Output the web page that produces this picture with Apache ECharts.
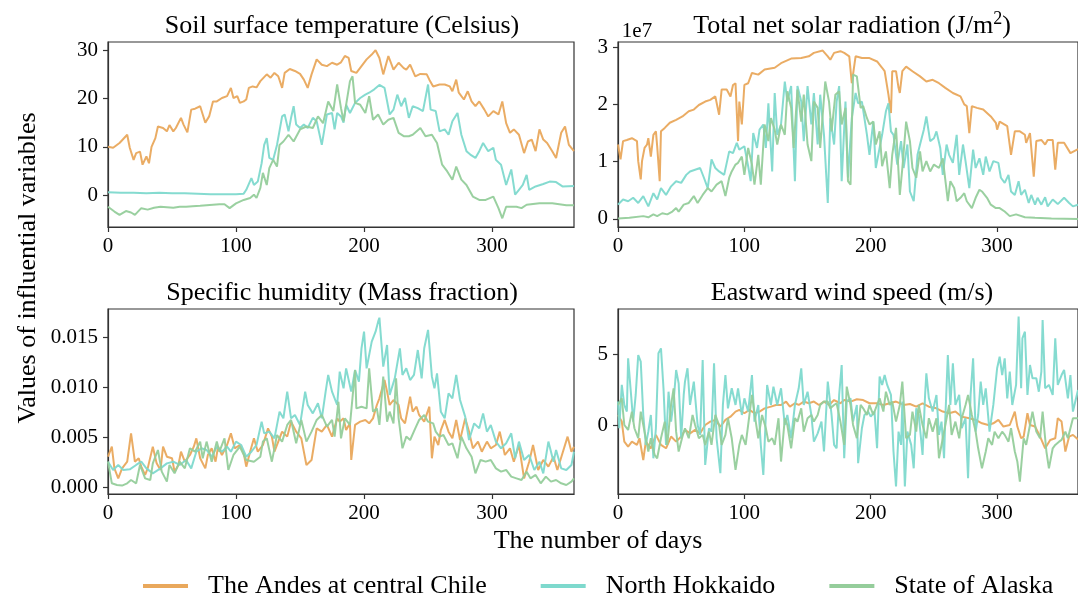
<!DOCTYPE html>
<html><head><meta charset="utf-8">
<script src="https://cdn.jsdelivr.net/npm/echarts@6/dist/echarts.min.js"></script>
<style>html,body{margin:0;padding:0;background:#fff}#c{width:1078px;height:601px}</style>
</head><body><div id="c"></div>
<script>
// ---------- data ----------
const seriesNames = ['The Andes at central Chile', 'North Hokkaido', 'State of Alaska'];
const xTicks = [0, 100, 200, 300];
const tempTicks = [0, 10, 20, 30];
const solarTicks = [0, 1, 2, 3];          // x 1e7
const humTicks = [0, 5, 10, 15];          // x 1e-3
const windTicks = [0, 5];

// Soil surface temperature (Celsius)
const tempChile = [[0,10],[4,9.8],[9,10.8],[15,12.5],[17,9.8],[20,7.3],[22,8.7],[25,9],[27,6.3],[30,8],[32,6.6],[34,10],[37,11.8],[39,14.2],[43,13.9],[46,13.2],[48,14.5],[51,13.2],[53,13.9],[57,16],[59,14.6],[62,13],[65,17.7],[68,17.9],[72,18.4],[74,16.7],[76,15],[79,16.3],[82,19.4],[85,19.4],[89,20.1],[93,20.5],[96,22.2],[98,20.1],[101,20.5],[103,19.1],[106,19.4],[108,19.8],[110,22.2],[113,22.5],[116,22.3],[119,23.6],[124,25],[127,24.3],[130,25.3],[133,24.6],[136,22.2],[138,25.3],[142,26.1],[146,25.7],[150,25.1],[153,23.9],[156,22.2],[159,25],[163,28.1],[167,27],[171,26.7],[175,27.4],[179,27],[182,27.5],[185,28.8],[188,28.4],[190,25.7],[194,25.3],[198,26.7],[202,28.1],[206,29.1],[209,30],[212,28.4],[215,25],[219,28.8],[223,26],[227,27.4],[231,26.3],[233,26],[236,27],[240,24.6],[244,25.1],[249,25],[251,23.9],[254,22.5],[259,22.9],[263,22.9],[267,22.5],[269,21.5],[272,23.9],[274,21.2],[278,19.8],[281,21.5],[284,19.4],[287,18.4],[290,19.4],[294,17.7],[297,16.3],[301,17.4],[305,16.7],[308,19.4],[311,14.9],[314,12.9],[317,13.6],[321,12.5],[325,8.7],[328,11.1],[331,11.5],[334,9.1],[337,13.6],[340,11.5],[343,10.8],[347,9.1],[350,7.7],[354,12.9],[357,14.2],[360,10.4],[364,9.1]];
const tempHokkaido = [[0,0.6],[10,0.5],[20,0.5],[30,0.4],[40,0.5],[50,0.4],[60,0.4],[70,0.3],[80,0.2],[90,0.2],[100,0.2],[106,0.3],[108,1.1],[112,3.5],[114,2.1],[117,2.8],[120,6.6],[122,10.4],[124,11.8],[126,7.7],[129,7.3],[132,10.4],[136,16.3],[138,16.7],[141,13.2],[143,16],[145,18.4],[147,14.6],[150,13.9],[153,14.6],[156,13.9],[160,16],[163,15.3],[167,10.4],[171,16.7],[175,17],[177,13.6],[179,17],[182,16.3],[184,15],[186,18.7],[189,17],[193,19.1],[197,20.1],[201,20.8],[204,21.2],[208,21.9],[212,22.8],[216,22.2],[220,16.7],[223,17.7],[226,20.8],[229,18.4],[232,20.1],[235,16],[238,18.4],[242,18],[246,17.4],[250,22.9],[252,17.7],[256,17.4],[259,13.2],[263,13.6],[266,12.5],[269,15.3],[273,17],[276,12.5],[280,9.1],[283,8.4],[287,7.7],[290,9.1],[293,10.8],[297,9.1],[301,9.8],[303,7.3],[307,6.3],[311,2.1],[315,5.3],[318,0.1],[321,1.1],[324,2.1],[327,4.2],[329,1.1],[334,1.8],[340,2.3],[345,2.8],[350,2.7],[355,1.8],[364,1.9]];
const tempAlaska = [[0,-2.4],[5,-3.4],[9,-4.1],[14,-3.3],[18,-3.6],[21,-4.1],[26,-2.7],[31,-3],[36,-2.6],[41,-2.4],[46,-2.5],[51,-2.6],[56,-2.4],[61,-2.4],[66,-2.3],[72,-2.2],[77,-2.1],[82,-2],[87,-1.9],[91,-1.9],[95,-2.7],[100,-1.7],[106,-1],[111,-0.6],[114,0.1],[116,-0.6],[119,1.5],[121,4.6],[124,2.1],[126,5.6],[129,7.3],[132,5.9],[134,10.4],[137,11.1],[141,12.5],[145,11.1],[150,13.6],[155,14.2],[160,13.9],[164,16.3],[168,14.9],[172,19.4],[176,17.4],[179,22.9],[182,18],[184,15.3],[186,18.7],[189,23.6],[191,24.6],[193,19.1],[197,18.7],[201,17],[204,20.5],[207,15.6],[211,16.7],[215,14.6],[219,15.6],[223,16],[227,12.9],[231,12.2],[235,12.2],[238,12.5],[244,13.9],[248,12.2],[253,12.5],[257,10.8],[261,6.3],[265,4.9],[269,3.2],[272,5.9],[276,3.2],[280,2.1],[285,-0.3],[290,-1],[295,-1],[301,-0.3],[305,-2.7],[308,-4.8],[311,-2.4],[319,-2.4],[323,-2.7],[327,-2],[337,-1.7],[347,-1.7],[358,-2.1],[364,-2.1]];

// Total net solar radiation (units of 1e7 J/m2)
const solarChile = [[0,1.30],[2,1.04],[4,1.36],[7,1.38],[11,1.41],[15,1.36],[16,1.01],[18,0.69],[19,1.01],[21,1.24],[23,1.30],[24,1.41],[26,1.09],[28,1.47],[30,1.53],[31,1.27],[33,0.66],[34,1.53],[37,1.59],[41,1.68],[46,1.73],[51,1.79],[56,1.88],[60,1.91],[64,1.99],[69,2.05],[73,2.08],[77,2.14],[80,1.82],[82,2.26],[86,2.26],[89,2.14],[91,2.34],[93,2.37],[95,1.36],[96,2.05],[98,1.65],[100,2.34],[103,2.37],[106,2.55],[111,2.52],[116,2.61],[124,2.64],[129,2.72],[137,2.80],[145,2.81],[151,2.84],[155,2.90],[162,2.94],[166,2.84],[168,2.78],[171,2.90],[176,2.93],[179,2.90],[183,2.84],[185,2.37],[188,2.84],[193,2.81],[199,2.81],[205,2.75],[209,2.64],[211,2.58],[214,2.17],[216,1.85],[217,2.58],[220,2.58],[222,2.29],[223,2.20],[225,2.58],[228,2.66],[233,2.58],[239,2.49],[244,2.40],[249,2.43],[254,2.37],[259,2.29],[265,2.20],[271,2.14],[274,2.00],[276,1.97],[278,1.50],[280,1.97],[284,1.94],[289,1.91],[295,1.79],[299,1.68],[300,1.56],[302,1.70],[308,1.62],[311,1.12],[314,1.53],[318,1.53],[322,1.47],[323,1.33],[326,1.50],[329,0.74],[331,1.36],[335,1.38],[338,1.30],[340,1.38],[344,1.38],[346,0.86],[348,1.33],[353,1.33],[358,1.15],[364,1.22]];
const solarHokkaido = [[0,0.25],[4,0.34],[8,0.31],[12,0.37],[16,0.28],[20,0.40],[24,0.22],[28,0.45],[31,0.34],[34,0.54],[38,0.42],[42,0.57],[46,0.66],[50,0.63],[54,0.77],[57,0.83],[61,0.86],[65,0.89],[68,0.72],[71,0.54],[74,1.04],[77,0.89],[80,0.83],[84,0.77],[88,1.18],[91,1.15],[94,1.33],[96,1.21],[100,1.27],[103,0.92],[105,0.66],[107,1.50],[110,1.24],[112,1.56],[115,1.65],[117,1.24],[119,2.02],[122,0.83],[124,2.20],[126,1.47],[129,1.65],[132,2.40],[134,2.05],[137,2.32],[140,0.66],[142,2.32],[145,2.05],[147,1.36],[150,2.32],[153,1.65],[155,2.20],[158,1.30],[160,2.17],[163,1.47],[166,0.28],[168,1.76],[171,1.30],[173,2.05],[175,2.32],[177,0.66],[180,2.05],[182,0.72],[185,1.76],[188,2.20],[190,2.02],[193,2.05],[197,1.47],[199,1.12],[202,1.70],[204,0.89],[207,1.24],[209,1.47],[212,1.88],[214,2.02],[216,1.53],[218,1.47],[221,0.95],[224,1.36],[226,0.89],[229,1.30],[231,0.48],[234,0.31],[237,1.12],[239,1.30],[242,1.56],[244,1.79],[247,1.36],[250,1.41],[252,1.53],[255,1.24],[257,0.77],[260,1.30],[262,1.12],[265,0.98],[268,1.47],[270,0.77],[273,1.30],[275,1.01],[278,0.54],[281,1.21],[283,0.89],[286,1.06],[289,0.77],[291,1.09],[294,0.83],[297,1.01],[301,0.98],[303,0.72],[306,0.63],[309,0.77],[311,0.48],[314,0.42],[317,0.66],[319,0.42],[322,0.51],[325,0.28],[327,0.42],[330,0.25],[332,0.37],[335,0.25],[338,0.38],[340,0.22],[344,0.34],[348,0.26],[353,0.37],[357,0.28],[360,0.22],[364,0.25]];
const solarAlaska = [[0,0.01],[9,0.02],[20,0.05],[24,0.03],[28,0.08],[31,0.05],[35,0.10],[39,0.08],[43,0.13],[46,0.19],[48,0.13],[52,0.25],[56,0.28],[60,0.40],[63,0.28],[67,0.42],[71,0.54],[74,0.48],[78,0.60],[82,0.66],[85,0.40],[88,0.72],[90,0.83],[93,0.95],[95,0.98],[98,1.09],[100,0.77],[103,1.24],[106,0.95],[108,0.60],[111,1.12],[113,0.60],[116,1.65],[119,1.36],[121,1.76],[124,1.56],[126,1.30],[129,1.65],[132,1.47],[134,2.23],[137,1.94],[139,1.24],[142,2.26],[145,1.70],[147,2.17],[150,1.30],[153,1.01],[155,2.05],[158,1.94],[160,1.24],[164,2.40],[167,2.05],[169,1.53],[172,2.17],[175,2.23],[177,1.65],[180,1.94],[182,0.66],[184,0.60],[186,2.52],[189,2.49],[192,1.94],[194,1.97],[197,1.76],[199,1.65],[202,1.70],[204,1.30],[207,1.53],[209,0.92],[212,1.18],[215,0.54],[217,1.12],[220,1.59],[223,0.42],[225,0.89],[228,1.70],[231,1.36],[233,0.89],[236,0.72],[239,1.18],[241,0.83],[244,1.01],[247,0.83],[250,0.95],[254,0.89],[257,1.06],[261,0.31],[263,0.66],[266,0.54],[268,0.31],[271,0.37],[274,0.45],[276,0.31],[280,0.19],[283,0.37],[286,0.51],[288,0.48],[292,0.37],[295,0.25],[299,0.19],[302,0.19],[306,0.13],[310,0.05],[315,0.08],[322,0.03],[330,0.02],[343,0.01],[364,0.00]];

// Specific humidity (units of 1e-3 mass fraction)
const humChile = [[0,3.07],[3,4.07],[5,1.90],[8,0.90],[11,1.90],[15,2.57],[18,5.41],[21,2.57],[24,2.91],[26,2.07],[29,1.24],[31,1.90],[35,4.07],[38,2.40],[41,1.74],[43,4.07],[46,3.07],[50,2.91],[52,1.57],[55,2.24],[57,3.57],[60,2.57],[64,3.24],[67,4.07],[69,4.91],[72,2.91],[76,1.90],[78,3.24],[81,3.91],[84,2.57],[86,4.07],[89,3.24],[93,4.24],[96,5.41],[99,3.91],[103,4.24],[106,3.41],[108,2.07],[111,3.57],[114,4.91],[117,3.57],[121,4.24],[125,5.91],[128,5.08],[130,3.57],[133,4.58],[136,5.58],[140,5.08],[143,6.58],[147,5.58],[151,4.91],[155,2.24],[159,2.74],[163,5.91],[167,5.58],[171,6.25],[175,5.08],[179,6.91],[181,6.58],[184,6.91],[186,5.74],[189,6.41],[190,2.74],[193,6.25],[197,6.58],[201,6.75],[204,6.41],[207,6.91],[210,8.25],[212,8.92],[216,10.75],[218,9.59],[220,8.25],[223,8.75],[227,8.25],[229,6.91],[232,6.41],[236,9.08],[238,7.58],[241,8.08],[243,7.25],[247,6.58],[251,8.08],[253,2.91],[255,5.08],[258,4.24],[260,5.74],[263,6.75],[266,5.58],[269,4.91],[272,6.75],[275,4.74],[279,6.91],[282,5.58],[285,3.91],[289,4.58],[292,3.57],[296,4.58],[299,3.91],[303,4.24],[306,5.58],[310,3.24],[314,3.91],[317,2.57],[321,4.24],[325,0.90],[329,2.57],[332,4.24],[336,1.74],[340,2.74],[344,2.07],[348,3.07],[351,1.74],[355,3.41],[359,5.08],[362,3.57],[364,4.07]];
const humHokkaido = [[0,2.57],[4,1.74],[8,2.24],[12,1.74],[17,1.80],[22,2.24],[26,2.57],[30,1.90],[35,1.40],[41,1.90],[46,2.40],[51,2.57],[56,2.24],[61,2.74],[65,1.90],[69,3.57],[73,3.91],[77,3.74],[81,3.07],[85,4.07],[89,3.57],[93,4.07],[96,3.57],[100,4.58],[104,4.24],[108,3.07],[112,3.57],[116,4.24],[120,6.58],[122,5.41],[126,5.58],[130,4.91],[134,7.58],[137,6.91],[140,9.59],[143,6.91],[146,7.25],[150,6.25],[154,9.59],[156,8.25],[160,7.41],[164,8.42],[167,6.91],[170,9.59],[172,11.26],[175,9.59],[179,8.25],[181,11.59],[184,9.92],[186,11.92],[190,9.59],[193,11.76],[196,10.59],[198,13.93],[200,15.6],[202,11.92],[206,14.6],[209,15.6],[211,16.6],[212,17.0],[215,12.09],[218,14.26],[220,9.25],[224,10.92],[228,13.93],[230,11.26],[233,11.92],[236,10.75],[239,11.26],[242,13.76],[245,10.92],[247,13.93],[250,15.77],[253,11.09],[255,9.92],[257,11.42],[260,7.58],[263,6.91],[266,9.42],[269,8.92],[272,11.26],[275,8.75],[279,7.08],[282,4.74],[286,6.41],[290,5.91],[293,7.41],[296,5.58],[299,6.25],[303,4.58],[307,3.91],[311,4.41],[315,5.41],[318,2.91],[321,4.58],[325,2.74],[329,3.24],[333,1.74],[337,2.57],[340,1.40],[344,4.58],[348,2.57],[350,3.74],[354,1.90],[358,1.74],[362,2.24],[364,3.57]];
const humAlaska = [[0,2.57],[3,0.40],[7,0.23],[11,0.17],[15,0.40],[18,0.73],[22,0.40],[25,2.24],[29,0.90],[33,0.73],[35,2.40],[39,3.74],[42,1.57],[46,0.57],[48,2.24],[52,1.40],[56,2.57],[60,1.90],[64,3.91],[68,3.57],[72,4.58],[74,2.91],[77,4.58],[81,2.57],[85,4.58],[87,3.57],[91,4.91],[94,1.74],[98,3.24],[103,4.07],[108,2.74],[114,2.57],[119,3.07],[121,4.58],[124,4.91],[128,2.57],[132,5.24],[136,4.58],[140,6.25],[143,6.75],[147,4.41],[151,6.75],[155,4.58],[159,5.58],[163,6.75],[167,7.25],[171,6.08],[175,6.75],[177,5.08],[180,8.58],[182,4.91],[185,6.91],[189,6.25],[193,11.76],[194,7.91],[198,8.08],[202,7.91],[204,11.92],[207,7.58],[210,7.91],[212,6.25],[215,11.09],[218,6.58],[220,7.58],[223,6.41],[225,10.92],[227,6.91],[230,3.91],[233,5.08],[236,4.74],[240,5.91],[243,6.75],[247,7.25],[250,6.58],[254,6.41],[256,5.58],[259,5.08],[262,5.24],[266,4.24],[269,4.41],[273,2.91],[276,5.08],[280,3.91],[284,3.07],[287,1.40],[291,2.74],[295,2.57],[299,2.74],[303,1.90],[307,1.57],[311,1.74],[315,1.07],[319,0.90],[323,0.73],[327,1.57],[330,0.90],[334,1.24],[338,0.40],[342,1.07],[346,0.57],[350,0.73],[354,0.40],[358,0.23],[362,0.57],[364,0.90]];

// Eastward wind speed (m/s)
const windChile = [[0,0.73],[3,0.26],[5,-1.16],[8,-1.51],[11,-1.16],[15,-1.39],[17,-0.92],[20,-2.46],[22,-1.16],[26,-1.63],[30,-0.68],[34,-1.39],[38,-1.63],[42,-0.80],[46,-1.16],[50,-0.80],[53,-0.33],[57,-0.57],[61,-0.33],[65,-0.57],[69,0.02],[73,0.26],[77,0.38],[81,-0.09],[85,0.38],[89,0.61],[93,0.97],[96,1.09],[100,0.85],[104,1.09],[108,0.85],[112,0.97],[116,1.20],[121,1.32],[125,1.44],[129,1.44],[133,1.68],[136,1.32],[140,1.56],[143,1.44],[147,1.68],[151,1.56],[155,1.68],[159,1.44],[163,1.68],[167,1.44],[171,1.79],[176,1.56],[179,1.79],[184,1.68],[189,1.84],[194,1.79],[199,1.56],[205,1.56],[210,1.44],[215,1.56],[220,1.68],[226,1.44],[231,1.51],[236,1.32],[241,1.56],[246,1.32],[252,1.20],[257,0.97],[262,0.85],[267,0.97],[272,0.61],[278,0.50],[283,0.38],[288,0.14],[293,0.02],[297,0.14],[301,0.38],[305,-0.09],[310,0.02],[314,0.97],[316,-0.09],[319,-0.92],[321,-0.80],[324,0.85],[326,0.02],[330,-0.09],[334,-0.80],[338,-1.63],[342,-1.04],[346,-0.92],[348,0.50],[351,0.26],[354,-1.86],[357,-0.80],[360,-0.68],[364,-1.0]];
const windHokkaido = [[0,1.68],[1,-0.21],[3,2.86],[5,1.44],[7,0.97],[8,4.74],[11,1.44],[12,0.26],[14,2.15],[16,4.98],[18,4.51],[20,0.73],[22,-1.39],[24,-0.45],[26,0.73],[28,-2.34],[30,-0.21],[32,5.10],[34,5.45],[36,2.62],[38,-1.39],[40,2.38],[42,0.26],[44,1.68],[46,3.92],[48,2.97],[50,-0.92],[52,2.15],[53,3.09],[55,4.04],[57,1.44],[60,3.09],[63,0.02],[65,-0.68],[67,4.63],[69,-2.81],[72,-0.21],[74,-0.45],[76,4.39],[78,-0.92],[81,-3.40],[83,1.44],[85,3.56],[87,1.20],[90,2.62],[93,1.44],[95,2.62],[98,0.73],[100,1.91],[103,0.97],[106,3.56],[108,0.26],[111,1.44],[113,-1.39],[115,-3.52],[118,2.86],[121,1.44],[123,2.74],[126,1.44],[129,2.62],[132,0.02],[134,0.73],[137,-0.92],[140,1.44],[143,2.62],[145,4.04],[147,1.44],[150,2.38],[153,0.73],[155,-1.16],[158,-0.57],[161,0.26],[163,-1.86],[166,3.09],[169,0.73],[171,-1.39],[173,-1.63],[175,2.15],[177,4.27],[179,-2.34],[181,1.68],[184,1.91],[186,0.26],[189,1.44],[190,-2.69],[193,-0.21],[195,0.73],[198,0.97],[200,0.61],[203,0.97],[205,-1.63],[207,3.45],[209,2.86],[211,3.56],[213,2.86],[216,2.15],[218,-1.86],[220,-4.34],[222,-0.45],[224,-1.39],[225,1.68],[227,-4.34],[229,-0.45],[232,-1.39],[234,-3.05],[236,1.20],[238,0.73],[241,-2.10],[243,2.15],[244,3.68],[246,1.91],[249,0.97],[252,2.15],[254,-0.68],[256,0.26],[258,-2.34],[259,0.50],[261,4.98],[263,1.44],[265,4.39],[267,1.44],[270,2.15],[272,-0.21],[275,0.50],[277,-3.75],[279,2.15],[281,4.74],[283,-0.45],[285,0.73],[287,3.09],[289,1.44],[291,2.62],[294,-0.45],[297,1.44],[300,4.04],[302,4.86],[304,3.56],[306,4.74],[308,1.91],[310,3.80],[312,1.44],[315,2.86],[317,7.70],[319,2.62],[320,6.16],[322,6.63],[324,2.15],[326,4.27],[328,3.33],[331,3.33],[333,2.38],[335,3.80],[336,7.46],[338,2.62],[341,2.86],[344,2.15],[346,6.16],[348,2.86],[351,3.56],[353,3.92],[356,1.91],[358,3.56],[360,0.97],[364,2.5]];
const windAlaska = [[0,1.44],[3,1.91],[5,0.02],[8,-0.33],[11,0.97],[13,-0.21],[16,-0.92],[18,0.97],[21,-0.45],[24,-1.86],[26,-0.92],[29,-2.10],[31,-2.34],[34,-0.92],[37,0.26],[39,-1.39],[42,1.44],[44,2.62],[46,-0.45],[48,-1.86],[51,-0.80],[53,-0.21],[56,-0.92],[59,0.73],[61,0.02],[64,-0.92],[67,-0.68],[69,-1.39],[72,-0.45],[74,-1.39],[77,0.73],[80,0.02],[82,-1.39],[85,-0.68],[87,0.50],[90,-0.92],[93,-3.16],[96,-1.39],[98,-0.68],[101,-1.39],[104,0.73],[106,2.15],[109,0.26],[111,-0.92],[114,0.73],[117,-0.21],[119,-1.16],[122,-0.92],[124,-1.39],[127,0.50],[129,-2.57],[132,0.50],[134,0.02],[137,-1.63],[140,0.50],[142,0.26],[145,1.20],[147,-0.45],[150,0.50],[153,0.73],[155,0.26],[158,0.73],[160,1.44],[163,1.68],[166,1.68],[168,1.20],[171,1.44],[173,1.56],[176,0.26],[179,-1.39],[181,2.74],[184,1.44],[186,0.02],[189,-0.92],[192,1.44],[194,1.20],[197,0.73],[199,1.44],[202,0.73],[205,1.44],[207,1.91],[210,0.97],[212,2.38],[215,1.44],[217,1.68],[220,0.26],[223,1.44],[225,3.09],[228,-0.92],[231,-0.68],[233,0.97],[236,-0.45],[238,1.44],[241,0.02],[244,-0.92],[246,0.50],[249,-0.45],[252,0.50],[254,-2.34],[257,-0.92],[259,0.02],[262,1.44],[264,-0.68],[267,0.26],[270,-0.92],[272,0.50],[275,1.44],[277,2.15],[280,0.73],[283,-0.45],[285,-1.63],[288,-3.05],[291,-1.86],[293,-0.92],[296,-1.39],[298,-0.45],[301,-0.92],[304,-0.45],[306,-0.68],[309,-1.16],[311,-0.21],[314,-1.86],[316,-2.57],[318,-3.99],[321,-0.92],[323,-1.39],[326,0.02],[328,0.97],[331,-0.45],[334,-0.92],[336,0.97],[339,-1.86],[341,-3.05],[344,-1.63],[346,-1.39],[349,-1.16],[351,-1.04],[354,-0.45],[356,-0.92],[360,0.50],[364,0.5]];

// ---------- chart ----------
const FONT = '"Liberation Serif", "Times New Roman", serif';
const COLORS = ['#e9a85c', '#7ed9cd', '#95cd9b'];
const AX = '#333';

const grids = [
  {left: 108, top: 42, width: 466, height: 185},
  {left: 618, top: 42, width: 466, height: 185},
  {left: 108, top: 309, width: 466, height: 185},
  {left: 618, top: 309, width: 466, height: 185}
].map(g => Object.assign(g, {show: true, borderColor: AX, borderWidth: 1.2, backgroundColor: 'transparent', containLabel: false}));

function xAx(gi) {
  return {
    type: 'value', gridIndex: gi, min: 0, max: 364,
    axisLine: {show: true, onZero: false, lineStyle: {color: AX, width: 1.2}},
    axisTick: {show: true, inside: false, length: 5, lineStyle: {color: AX, width: 1.2}, customValues: xTicks},
    axisLabel: {customValues: xTicks, color: '#000', fontFamily: FONT, fontSize: 21, margin: 9},
    splitLine: {show: false}
  };
}
function yAx(gi, min, max, ticks, fmt) {
  return {
    type: 'value', gridIndex: gi, min: min, max: max,
    axisLine: {show: true, onZero: false, lineStyle: {color: AX, width: 1.2}},
    axisTick: {show: true, inside: false, length: 5, lineStyle: {color: AX, width: 1.2}, customValues: ticks},
    axisLabel: {customValues: ticks, color: '#000', fontFamily: FONT, fontSize: 21, margin: 10, formatter: fmt},
    splitLine: {show: false}
  };
}

const panels = [
  [tempChile, tempHokkaido, tempAlaska],
  [solarChile, solarHokkaido, solarAlaska],
  [humChile, humHokkaido, humAlaska],
  [windChile, windHokkaido, windAlaska]
];
const series = [];
panels.forEach((p, gi) => {
  p.forEach((d, si) => {
    series.push({
      type: 'line', name: seriesNames[si], xAxisIndex: gi, yAxisIndex: gi,
      data: d, showSymbol: false, symbol: 'none', color: COLORS[si],
      lineStyle: {width: 2, color: COLORS[si], opacity: 0.95},
      emphasis: {disabled: true}, animation: false, z: 2 + si
    });
  });
});

const option = {
  backgroundColor: '#fff',
  animation: false,
  grid: grids,
  xAxis: [xAx(0), xAx(1), xAx(2), xAx(3)],
  yAxis: [
    yAx(0, -6.6, 31.7, tempTicks, v => String(v)),
    yAx(1, -0.14, 3.09, solarTicks, v => String(v)),
    yAx(2, -0.67, 17.87, humTicks, v => (v / 1000).toFixed(3)),
    yAx(3, -4.87, 8.24, windTicks, v => String(v))
  ],
  legend: {
    data: seriesNames, left: 143, top: 573, padding: 0, icon: 'rect', itemWidth: 45, itemHeight: 4, itemGap: 54,
    textStyle: {fontFamily: FONT, fontSize: 26, color: '#000', padding: [0, 0, 0, 15]},
    selectedMode: false
  },
  series: series,
  graphic: [
    {type: 'text', x: 342, y: 26, style: {text: 'Soil surface temperature (Celsius)', font: '26px ' + FONT, fill: '#000', align: 'center', verticalAlign: 'middle'}},
    {type: 'text', x: 852, y: 26, style: {
      text: '{a|Total net solar radiation (J/m}{s|2}{a|)}', align: 'center', verticalAlign: 'middle', fill: '#000',
      rich: {a: {fontFamily: FONT, fontSize: 26, lineHeight: 32, fill: '#000'}, s: {fontFamily: FONT, fontSize: 18, lineHeight: 18, verticalAlign: 'top', fill: '#000'}}
    }},
    {type: 'text', x: 342, y: 293, style: {text: 'Specific humidity (Mass fraction)', font: '26px ' + FONT, fill: '#000', align: 'center', verticalAlign: 'middle'}},
    {type: 'text', x: 852, y: 293, style: {text: 'Eastward wind speed (m/s)', font: '26px ' + FONT, fill: '#000', align: 'center', verticalAlign: 'middle'}},
    {type: 'text', x: 637, y: 31, style: {text: '1e7', font: '21px ' + FONT, fill: '#000', align: 'center', verticalAlign: 'middle'}},
    {type: 'text', x: 598, y: 541, style: {text: 'The number of days', font: '26px ' + FONT, fill: '#000', align: 'center', verticalAlign: 'middle'}},
    {type: 'text', x: 28, y: 268, rotation: Math.PI / 2, style: {text: 'Values of influential variables', font: '26px ' + FONT, fill: '#000', align: 'center', verticalAlign: 'middle'}}
  ]
};

const chart = echarts.init(document.getElementById('c'), null, {renderer: 'canvas'});
chart.setOption(option);
</script>
</body></html>
